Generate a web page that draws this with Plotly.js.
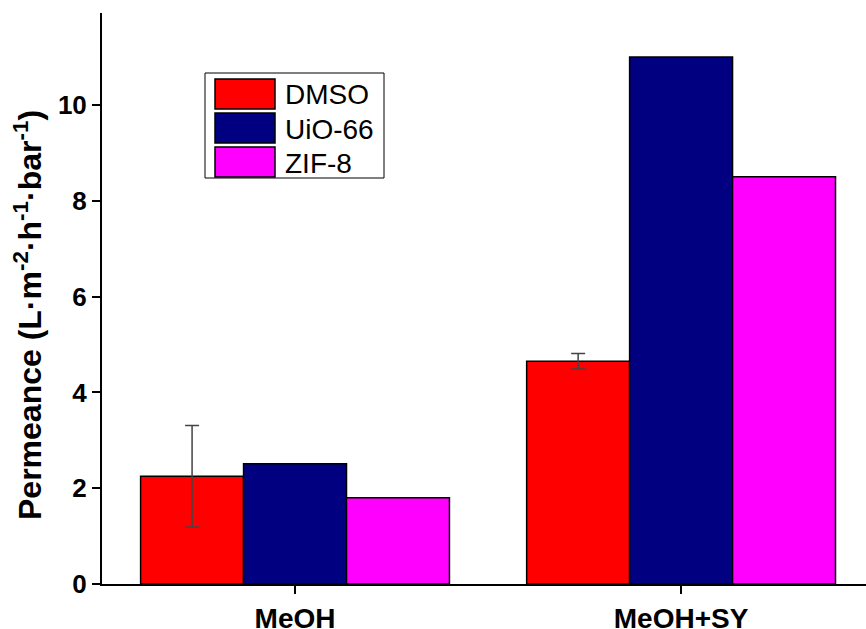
<!DOCTYPE html>
<html>
<head>
<meta charset="utf-8">
<script src="https://cdn.plot.ly/plotly-3.0.1.min.js"></script>
<style>html,body{margin:0;padding:0;background:#fff;}#chart{width:866px;height:629px;}</style>
</head>
<body>
<div id="chart"></div>
<script>
// ---- data ----
const categories = ["MeOH", "MeOH+SY"];
const seriesNames = ["DMSO", "UiO-66", "ZIF-8"];
const dmso = [2.25, 4.65];
const dmsoErr = [1.06, 0.16];
const uio66 = [2.51, 11.0];
const zif8 = [1.80, 8.5];
const seriesColors = ["#FF0000", "#000080", "#FF00FF"];
const yTickVals = [0, 2, 4, 6, 8, 10];
const yTickText = ["0", "2", "4", "6", "8", "10"];
const yMinorVals = [1, 3, 5, 7, 9, 11];

// ---- layout geometry (pixels) ----
const W = 866, H = 629;
const L = 102, R = 0, T = 13, B = 45;
const pw = W - L - R, ph = H - T - B;
const px = x => (x - L) / pw;
const py = y => (H - B - y) / ph;
const yMax = ph / 47.9;

const font = "Arial, 'Liberation Sans', sans-serif";

const values = [dmso, uio66, zif8];
const traces = seriesNames.map((name, i) => {
  const t = {
    type: "bar",
    name: name,
    x: categories,
    y: values[i],
    marker: {color: seriesColors[i], line: {color: "#000", width: 1.5}},
    showlegend: false
  };
  if (i === 0) {
    t.error_y = {type: "data", array: dmsoErr, visible: true, color: "#444", thickness: 1.5, width: 7};
  }
  return t;
});

// custom legend (large swatches like the original)
const shapes = [];
const annotations = [];
shapes.push({type: "rect", xref: "paper", yref: "paper",
  x0: px(205), x1: px(384), y0: py(73), y1: py(178),
  line: {color: "#000", width: 1}, fillcolor: "rgba(0,0,0,0)"});
const swTop = [79, 113, 147];
seriesNames.forEach((name, i) => {
  shapes.push({type: "rect", xref: "paper", yref: "paper",
    x0: px(215), x1: px(275), y0: py(swTop[i]), y1: py(swTop[i] + 30),
    line: {color: "#000", width: 1.5}, fillcolor: seriesColors[i]});
  annotations.push({xref: "paper", yref: "paper", x: px(283), y: py(swTop[i] + 16),
    xanchor: "left", yanchor: "middle", showarrow: false, text: name,
    font: {family: font, size: 28, color: "#000"}});
});

// y axis title
annotations.push({xref: "paper", yref: "paper", x: px(28), y: py(315),
  xanchor: "center", yanchor: "middle", showarrow: false, textangle: -90,
  text: "<b>Permeance (L·m<sup>-2</sup>·h<sup>-1</sup>·bar<sup>-1</sup>)</b>",
  font: {family: font, size: 32, color: "#000"}});

const layout = {
  width: W, height: H,
  margin: {l: L, r: R, t: T, b: B, pad: 0},
  paper_bgcolor: "#fff", plot_bgcolor: "#fff",
  barmode: "group", bargap: 0.2, bargroupgap: 0,
  showlegend: false,
  font: {family: font, color: "#000", size: 26},
  xaxis: {
    type: "category", range: [-0.5, 1.479],
    tickmode: "array", tickvals: categories, ticktext: categories.map(c => "<b>" + c + "</b>"),
    showline: true, linecolor: "#000", linewidth: 2,
    ticks: "outside", ticklen: 8, tickwidth: 2, tickcolor: "#000",
    showgrid: false, zeroline: false,
    tickfont: {family: font, size: 28, color: "#000"}
  },
  xaxis2: {
    overlaying: "x", anchor: "y", type: "linear", range: [-0.5, 1.479],
    tickmode: "array", tickvals: [-0.5, 0.5, 1.5],
    ticks: "outside", ticklen: 5, tickwidth: 2, tickcolor: "#000",
    showticklabels: false, showline: false, showgrid: false, zeroline: false
  },
  yaxis: {
    range: [0, yMax],
    tickmode: "array", tickvals: yTickVals, ticktext: yTickText.map(t => "<b>" + t + "</b>"),
    showline: true, linecolor: "#000", linewidth: 2,
    ticks: "outside", ticklen: 8, tickwidth: 2, tickcolor: "#000",
    showgrid: false, zeroline: false,
    tickfont: {family: font, size: 26, color: "#000"}
  },
  yaxis2: {
    overlaying: "y", anchor: "x", side: "left", type: "linear", range: [0, yMax],
    tickmode: "array", tickvals: yMinorVals,
    ticks: "outside", ticklen: 5, tickwidth: 2, tickcolor: "#000",
    showticklabels: false, showline: false, showgrid: false, zeroline: false
  },
  shapes: shapes,
  annotations: annotations
};

Plotly.newPlot("chart", traces, layout, {displayModeBar: false, staticPlot: true});
</script>
</body>
</html>
